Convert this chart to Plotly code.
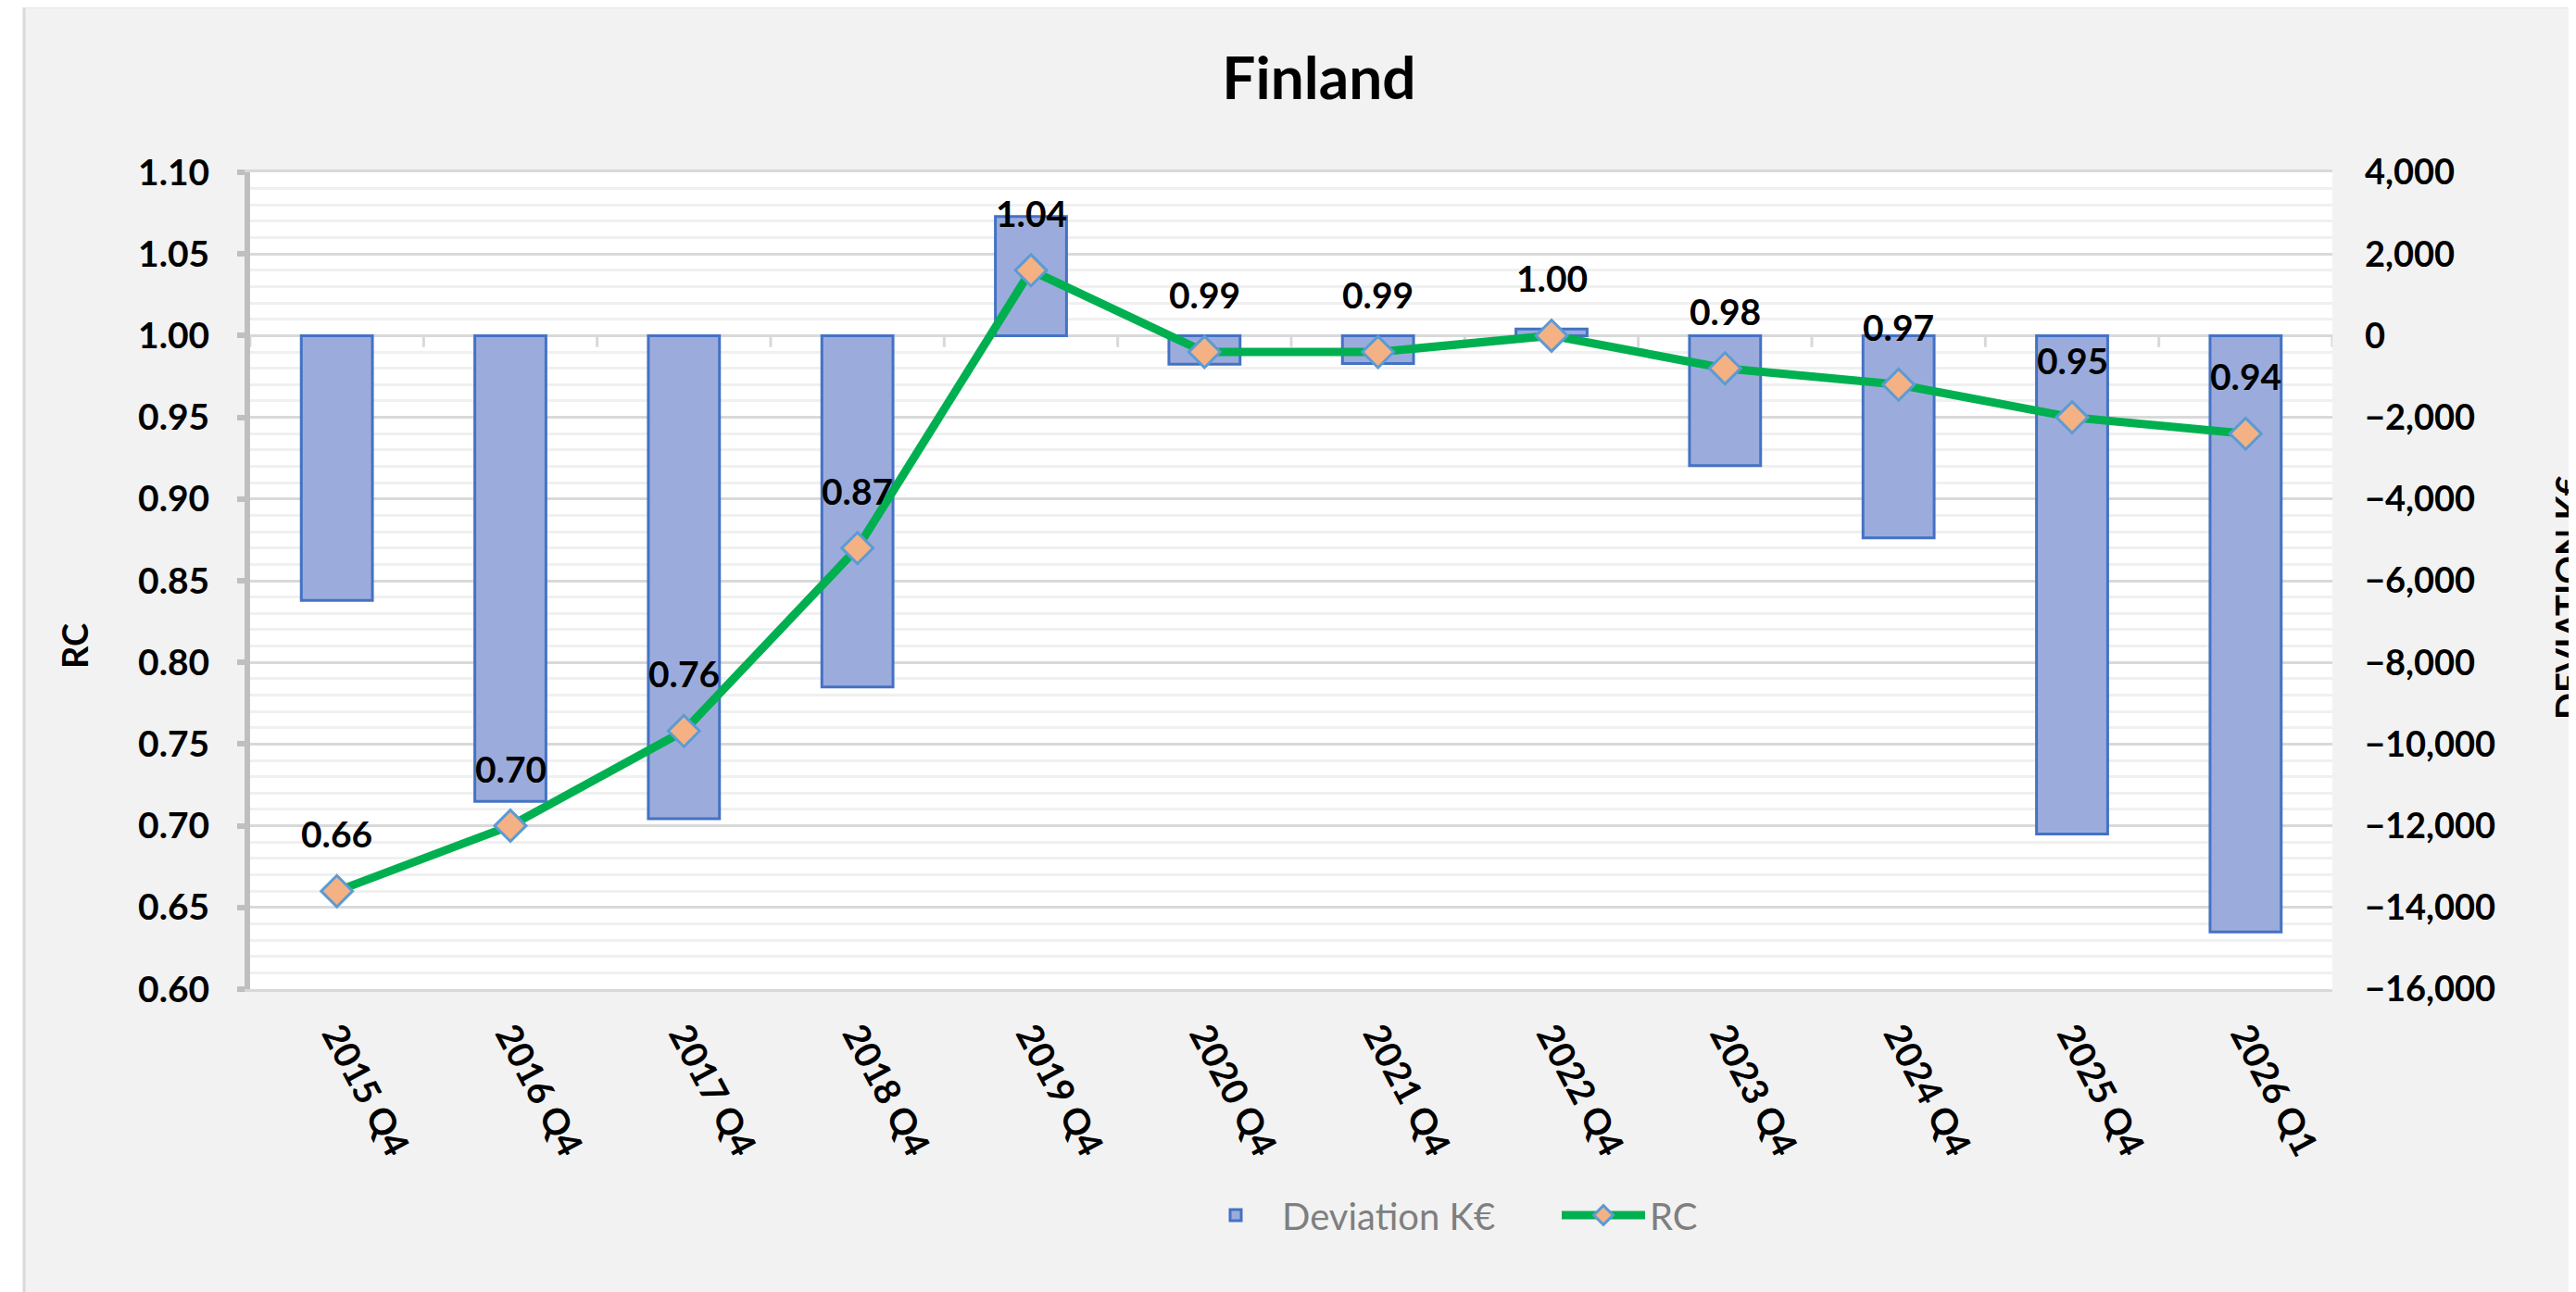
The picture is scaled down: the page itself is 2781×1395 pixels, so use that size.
import plotly.graph_objects as go

# ---------------- data ----------------
categories = ["2015 Q4", "2016 Q4", "2017 Q4", "2018 Q4", "2019 Q4", "2020 Q4",
              "2021 Q4", "2022 Q4", "2023 Q4", "2024 Q4", "2025 Q4", "2026 Q1"]
deviation_k_eur = [-6480, -11400, -11830, -8600, 2920, -700,
                   -680, 160, -3180, -4950, -12200, -14600]
rc_values = [0.66, 0.70, 0.758, 0.87, 1.04, 0.99,
             0.99, 1.00, 0.98, 0.97, 0.95, 0.94]
rc_ticks = [0.60, 0.65, 0.70, 0.75, 0.80, 0.85, 0.90, 0.95, 1.00, 1.05, 1.10]
dev_ticks = [-16000, -14000, -12000, -10000, -8000, -6000, -4000, -2000, 0, 2000, 4000]

# ---------------- geometry (px) ----------------
W, H = 2781, 1395
L, R_EDGE, T, B_EDGE = 270, 2518, 186, 1068
OFF = 8  # page body margin compensation


def px_x(X):
    return (X - L) / (R_EDGE - L)


def px_y(Y):
    return (B_EDGE - Y) / (B_EDGE - T)


FONT = "Lato, Carlito, Calibri, 'Open Sans', sans-serif"

fig = go.Figure()

fig.add_trace(go.Bar(
    x=categories, y=deviation_k_eur, name="Deviation K€", yaxis="y",
    width=0.41,
    marker=dict(color="#9bacdc", line=dict(color="#4472c4", width=3)),
))

fig.add_trace(go.Scatter(
    x=categories, y=rc_values, name="RC", yaxis="y2", mode="lines+markers",
    line=dict(color="#00b050", width=9),
    marker=dict(symbol="diamond", size=26, color="#f4b183",
                line=dict(color="#5b9bd5", width=3)),
))

# data labels above the RC points
annotations = []
for c, v in zip(categories, rc_values):
    annotations.append(dict(
        x=c, y=v, xref="x", yref="y2", text=f"{v:.2f}", showarrow=False,
        yshift=62, font=dict(family=FONT, size=39, color="black", weight="bold"),
    ))

# axis titles
annotations.append(dict(
    x=px_x(80), y=px_y(698), xref="paper", yref="paper", text="RC",
    xanchor="center", yanchor="middle",
    showarrow=False, textangle=-90,
    font=dict(family=FONT, size=38, color="black", weight="bold"),
))
annotations.append(dict(
    x=px_x(2772), y=px_y(645), xref="paper", yref="paper", text="DEVIATION K€",
    xanchor="center", yanchor="middle",
    showarrow=False, textangle=-90,
    font=dict(family=FONT, size=38, color="black", weight="bold"),
))

shapes = []
# white margin strips and chart-area border (outside plot area)
shapes.append(dict(type="rect", xref="paper", yref="paper",
                   x0=px_x(-40), x1=px_x(25), y0=px_y(1500), y1=px_y(-40),
                   fillcolor="white", line=dict(width=0)))
shapes.append(dict(type="rect", xref="paper", yref="paper",
                   x0=px_x(-40), x1=px_x(2900), y0=px_y(6), y1=px_y(-40),
                   fillcolor="white", line=dict(width=0)))
shapes.append(dict(type="line", xref="paper", yref="paper",
                   x0=px_x(26), x1=px_x(26), y0=px_y(7), y1=px_y(1500),
                   line=dict(color="#d9d9d9", width=3)))
shapes.append(dict(type="line", xref="paper", yref="paper",
                   x0=px_x(26), x1=px_x(2900), y0=px_y(7), y1=px_y(7),
                   line=dict(color="#d9d9d9", width=3)))
# category tick marks on the horizontal axis crossing at RC = 1.00
for i in range(len(categories) + 1):
    shapes.append(dict(type="line", xref="x", yref="y2", layer="below",
                       x0=i - 0.5, x1=i - 0.5, y0=1.0, y1=0.993,
                       line=dict(color="#d9d9d9", width=3)))

fig.update_layout(
    width=W, height=H,
    margin=dict(l=L - OFF, r=W - R_EDGE + OFF, t=T - OFF, b=H - B_EDGE + OFF,
                autoexpand=False),
    paper_bgcolor="#f2f2f2",
    plot_bgcolor="white",
    font=dict(family=FONT, color="black"),
    title=dict(text="Finland", x=(1424 - OFF) / W, xanchor="center",
               y=1 - (85 - OFF) / H, yanchor="middle",
               font=dict(family=FONT, size=64, color="black", weight="bold")),
    xaxis=dict(
        type="category", range=[-0.5, len(categories) - 0.5],
        showgrid=False, zeroline=False, ticks="",
        showline=True, linecolor="#d9d9d9", linewidth=3, mirror=True,
        tickangle=62, ticklabelstandoff=8,
        tickfont=dict(family=FONT, size=39, color="black", weight="bold"),
    ),
    # deviation axis (right)
    yaxis=dict(
        side="right",
        range=[dev_ticks[0], dev_ticks[-1]], tickvals=dev_ticks, tickformat=",",
        showgrid=False, zeroline=False, showline=False, ticks="",
        ticklabelstandoff=34,
        tickfont=dict(family=FONT, size=38, color="black", weight="bold"),
    ),
    # RC axis (left), overlaid so the line is drawn above the bars
    yaxis2=dict(
        overlaying="y", side="left", anchor="x",
        range=[rc_ticks[0], rc_ticks[-1]], tickvals=rc_ticks, tickformat=".2f",
        showgrid=True, gridcolor="#d9d9d9", gridwidth=3,
        minor=dict(dtick=0.01, showgrid=True, gridcolor="#f0f0f0", gridwidth=3),
        zeroline=False,
        showline=True, linecolor="#bfbfbf", linewidth=6,
        ticks="outside", ticklen=8, tickwidth=6, tickcolor="#bfbfbf",
        ticklabelstandoff=22,
        tickfont=dict(family=FONT, size=39, color="black", weight="bold"),
    ),
    legend=dict(
        orientation="h", x=px_x(1284), xanchor="left", y=px_y(1312),
        yanchor="middle", bgcolor="rgba(0,0,0,0)",
        font=dict(family=FONT, size=40, color="#7f7f7f"),
        itemwidth=90, entrywidth=292,
        traceorder="normal",
    ),
    showlegend=True,
    annotations=annotations,
    shapes=shapes,
    bargap=0.59,
)

fig.write_html("out.html")
